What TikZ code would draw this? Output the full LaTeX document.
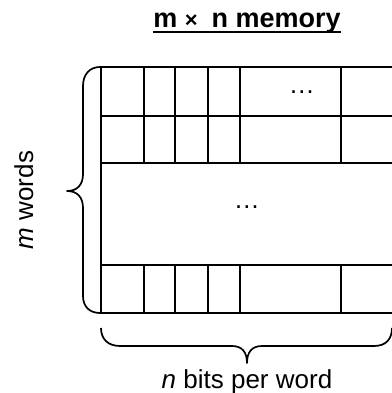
\documentclass[tikz,border=0pt]{standalone}
\usepackage{fontspec}
\setmainfont{Liberation Sans}
\begin{document}
\begin{tikzpicture}[x=0.5pt,y=-0.5pt,
  grid/.style={line width=0.85pt},
  brace/.style={line width=0.85pt, line join=round},
  lbl/.style={inner sep=0pt, font=\fontsize{13}{15}\selectfont}]
\useasboundingbox (0,0) rectangle (392,393);
% title
\node[lbl, anchor=base, font=\fontsize{13.5}{16}\selectfont\bfseries] (title) at (247,27)
  {m\hspace{3.8pt}{\fontsize{11}{11}\selectfont ×}\hspace{7pt}n memory};
\draw[line width=1pt] ([yshift=-2.5pt]title.base west) -- ([yshift=-2.5pt]title.base east);
% grid
\draw[grid] (392,67) -- (101,67) -- (101,313) -- (392,313);
\foreach \y in {116,163,265} \draw[grid] (101,\y) -- (392,\y);
\foreach \x in {144,175,208,240,341} {
  \draw[grid] (\x,67) -- (\x,163);
  \draw[grid] (\x,265) -- (\x,313);
}
\node[lbl, anchor=base] (dots1) at (302,93) {…};
\node[lbl, anchor=base] (dots2) at (247,208) {…};
% left brace
\draw[brace] (100,67) .. controls (90,67) and (83,74) .. (83,86) -- (83,174)
  .. controls (83,184) and (78,191) .. (67,191)
  .. controls (78,191) and (83,198) .. (83,208) -- (83,296)
  .. controls (83,307) and (90,313) .. (100,313);
% bottom brace
\draw[brace] (101,328) .. controls (101,339) and (108,346) .. (120,346) -- (232,346)
  .. controls (242,346) and (247,352) .. (247,363)
  .. controls (247,352) and (252,346) .. (262,346) -- (374,346)
  .. controls (386,346) and (392,339) .. (392,328);
% labels
\node[lbl, rotate=90, anchor=base] (mw) at (33,200) {\textit{m} words};
\node[lbl, anchor=base] (nb) at (247,388) {\textit{n} bits per word};
\end{tikzpicture}
\end{document}
